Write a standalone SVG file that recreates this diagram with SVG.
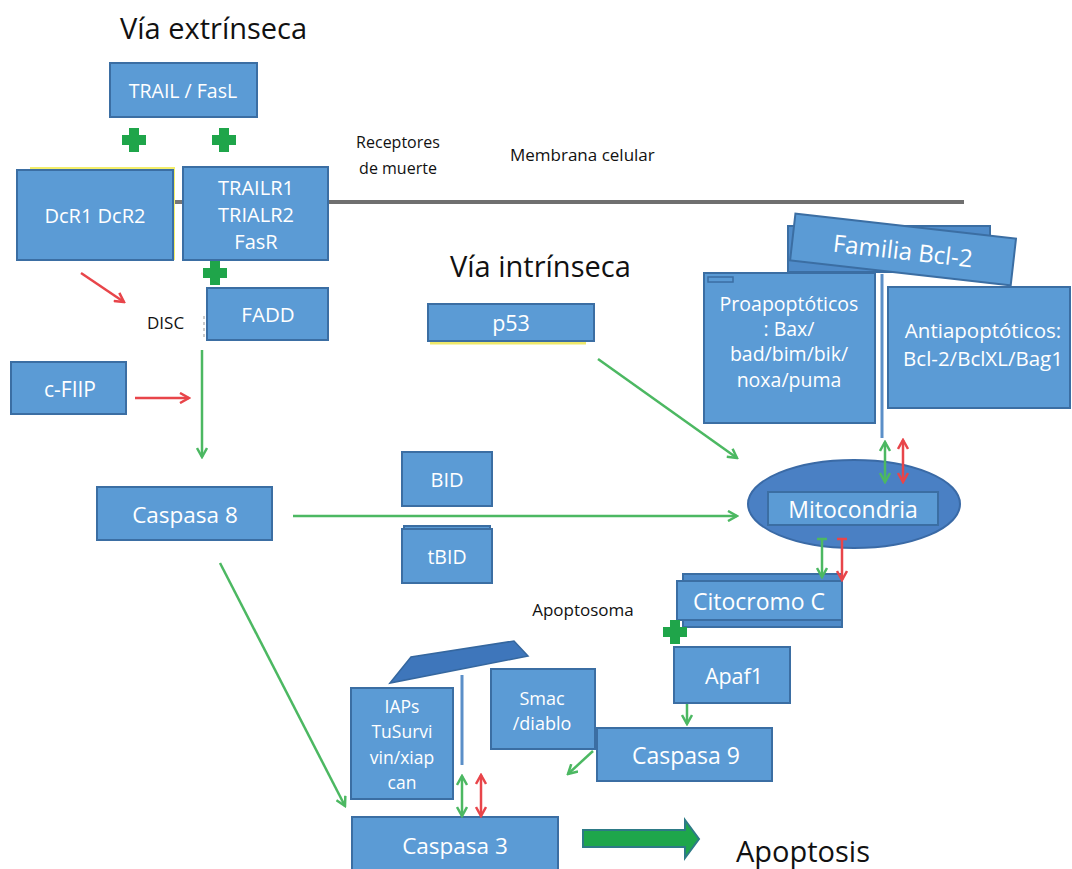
<svg xmlns="http://www.w3.org/2000/svg" xmlns:xlink="http://www.w3.org/1999/xlink" width="1072" height="869" viewBox="0 0 1072 869">
<style>
.box{fill:#5b9bd5;stroke:#3b6ea3;stroke-width:2}
.box2{fill:#4f8bc9;stroke:#3b6ea3;stroke-width:2}
.t{font-family:"Open Sans","Liberation Sans",sans-serif;fill:#ffffff;text-anchor:middle;dominant-baseline:central}
.lbl{font-family:"Open Sans","Liberation Sans",sans-serif;fill:#111111}
.g{stroke:#4cb862;stroke-width:2.5;fill:none}
.r{stroke:#e8454a;stroke-width:2.5;fill:none}
.bl{stroke:#5b8fc8;stroke-width:3;fill:none}
.plus{fill:#1fa54a}
</style>
<defs>
<marker id="ag" viewBox="0 0 12 12" refX="10" refY="6" markerWidth="12" markerHeight="12" markerUnits="userSpaceOnUse" orient="auto-start-reverse"><path d="M1,1 L10,6 L1,11" fill="none" stroke="#4cb862" stroke-width="2.5"/></marker>
<marker id="ar" viewBox="0 0 12 12" refX="10" refY="6" markerWidth="12" markerHeight="12" markerUnits="userSpaceOnUse" orient="auto-start-reverse"><path d="M1,1 L10,6 L1,11" fill="none" stroke="#e8454a" stroke-width="2.5"/></marker>
<path id="plusShape" class="plus" d="M-5,-12 h10 v7 h7 v10 h-7 v7 h-10 v-7 h-7 v-10 h7 z"/>
</defs>
<rect width="1072" height="869" fill="#ffffff"/>

<!-- titles and labels -->
<text class="lbl" x="120" y="39" font-size="29">Vía extrínseca</text>
<text class="lbl" x="450" y="277" font-size="29">Vía intrínseca</text>
<text class="lbl" x="398" y="148" font-size="16" text-anchor="middle">Receptores</text>
<text class="lbl" x="398" y="174" font-size="16" text-anchor="middle">de muerte</text>
<text class="lbl" x="510" y="161" font-size="17">Membrana celular</text>
<text class="lbl" x="147" y="329" font-size="17">DISC</text>
<text class="lbl" x="583" y="616" font-size="17" text-anchor="middle">Apoptosoma</text>
<text class="lbl" x="736" y="862" font-size="29">Apoptosis</text>

<!-- membrane -->
<g id="membrane">
<line x1="173" y1="202" x2="183" y2="202" stroke="#777" stroke-width="4"/>
<line x1="328" y1="202" x2="964" y2="202" stroke="#6f6f6f" stroke-width="4"/>
</g>

<!-- nodes -->
<g id="trail"><rect class="box" x="110" y="63" width="147" height="54"/><text class="t" x="183" y="90" font-size="19.5">TRAIL / FasL</text></g>
<g id="dcr">
<path d="M30,168 H174 V260" fill="none" stroke="#f3ee6a" stroke-width="2"/>
<rect class="box" x="17" y="170" width="156" height="90"/><text class="t" x="95" y="215" font-size="20">DcR1 DcR2</text></g>
<g id="trailr"><rect class="box" x="183" y="167" width="145" height="93"/>
<text class="t" x="256" y="187" font-size="20">TRAILR1</text><text class="t" x="256" y="214" font-size="20">TRIALR2</text><text class="t" x="256" y="241" font-size="20">FasR</text></g>
<g id="fadd"><rect class="box" x="207" y="288" width="121" height="52"/><text class="t" x="268" y="314" font-size="20.5">FADD</text></g>
<g id="cfiip"><rect class="box" x="11" y="362" width="115" height="52"/><text class="t" x="70" y="389" font-size="21">c-FIIP</text></g>
<g id="casp8"><rect class="box" x="97" y="487" width="175" height="53"/><text class="t" x="185" y="514" font-size="22.5">Caspasa 8</text></g>
<g id="bid"><rect class="box" x="402" y="452" width="90" height="54"/><text class="t" x="447" y="479" font-size="20">BID</text></g>
<g id="tbid"><rect class="box" x="404" y="526" width="86" height="6"/><rect class="box" x="402" y="529" width="90" height="54"/><text class="t" x="447" y="556" font-size="19.5">tBID</text></g>
<g id="p53"><line x1="430" y1="343" x2="586" y2="343" stroke="#eee86a" stroke-width="3"/><rect class="box" x="428" y="304" width="166" height="37"/><text class="t" x="511" y="322" font-size="21.5">p53</text></g>
<g id="bcl2">
<rect class="box2" x="788" y="226" width="202" height="46"/>
<g transform="rotate(6.5 903 250)"><rect class="box" x="792" y="226" width="222" height="47"/><text class="t" x="903" y="250" font-size="24">Familia Bcl-2</text></g>
</g>
<g id="pro"><rect class="box" x="704" y="273" width="171" height="150"/><rect x="708" y="277" width="25" height="5" fill="#5b9bd5" stroke="#3b6ea3" stroke-width="1.5"/>
<text class="t" x="789" y="303" font-size="19.5">Proapoptóticos</text><text class="t" x="789" y="328" font-size="19.5">: Bax/</text><text class="t" x="789" y="353" font-size="19.5">bad/bim/bik/</text><text class="t" x="789" y="379" font-size="19.5">noxa/puma</text></g>
<g id="anti"><rect class="box" x="888" y="287" width="182" height="121"/>
<text class="t" x="983" y="330" font-size="20.5">Antiapoptóticos:</text><text class="t" x="983" y="358" font-size="20.5">Bcl-2/BclXL/Bag1</text></g>
<g id="mito"><ellipse cx="854" cy="504" rx="106" ry="44" fill="#4a80c4" stroke="#3a6aa6" stroke-width="2"/>
<rect class="box" x="768" y="492" width="170" height="33"/><text class="t" x="853" y="509" font-size="23">Mitocondria</text></g>
<g id="cito"><rect class="box2" x="683" y="574" width="159" height="53"/><rect class="box" x="677" y="581" width="165" height="39"/><text class="t" x="759" y="601" font-size="23">Citocromo C</text></g>
<g id="apaf1"><rect class="box" x="674" y="647" width="116" height="56"/><text class="t" x="734" y="675" font-size="21.5">Apaf1</text></g>
<g id="casp9"><rect class="box" x="597" y="728" width="175" height="53"/><text class="t" x="686" y="755" font-size="23">Caspasa 9</text></g>
<g id="smac"><rect class="box" x="491" y="669" width="104" height="80"/><text class="t" x="542" y="698" font-size="18">Smac</text><text class="t" x="542" y="723" font-size="18">/diablo</text></g>
<g id="apoptosoma"><path d="M390,683 L411,657 L514,641 L528,656 Z" fill="#3e76bb" stroke="#35679f" stroke-width="1.5"/></g>
<g id="iaps"><rect class="box" x="351" y="688" width="102" height="111"/>
<text class="t" x="402" y="706" font-size="17.5">IAPs</text><text class="t" x="402" y="731" font-size="17.5">TuSurvi</text><text class="t" x="402" y="757" font-size="17.5">vin/xiap</text><text class="t" x="402" y="782" font-size="17.5">can</text></g>
<g id="casp3"><rect class="box" x="352" y="817" width="206" height="56"/><text class="t" x="455" y="845" font-size="22.5">Caspasa 3</text></g>

<!-- connectors -->
<g id="connectors">
<line class="r" x1="81" y1="273" x2="124" y2="302" marker-end="url(#ar)"/>
<line x1="204" y1="316" x2="204" y2="337" stroke="#bbb" stroke-width="1.5" stroke-dasharray="3,3"/>
<line class="g" x1="202" y1="350" x2="202" y2="457" marker-end="url(#ag)"/>
<line class="r" x1="135" y1="398" x2="189" y2="398" marker-end="url(#ar)"/>
<line class="g" x1="293" y1="516" x2="737" y2="516" marker-end="url(#ag)"/>
<line class="g" x1="598" y1="359" x2="737" y2="458" marker-end="url(#ag)"/>
<line class="g" x1="220" y1="563" x2="345" y2="806" marker-end="url(#ag)"/>
<line class="bl" x1="882" y1="274" x2="882" y2="438"/>
<line class="g" x1="885" y1="442" x2="885" y2="482" marker-start="url(#ag)" marker-end="url(#ag)"/>
<line class="r" x1="903" y1="440" x2="903" y2="482" marker-start="url(#ar)" marker-end="url(#ar)"/>
<line class="g" x1="822" y1="539" x2="822" y2="577" marker-end="url(#ag)"/>
<line class="g" x1="817" y1="539" x2="827" y2="539"/>
<line class="r" x1="842" y1="539" x2="842" y2="580" marker-end="url(#ar)"/>
<line class="r" x1="837" y1="539" x2="847" y2="539"/>
<line class="g" x1="687" y1="704" x2="687" y2="724" marker-end="url(#ag)"/>
<line class="g" x1="593" y1="751" x2="568" y2="774" marker-end="url(#ag)"/>
<line class="bl" x1="462" y1="675" x2="462" y2="765"/>
<line class="g" x1="462" y1="776" x2="462" y2="816" marker-start="url(#ag)" marker-end="url(#ag)"/>
<line class="r" x1="481" y1="775" x2="481" y2="816" marker-start="url(#ar)" marker-end="url(#ar)"/>
<path d="M583,830 H685 V820 L699,839 L685,858 V847 H583 Z" fill="#1ea64b" stroke="#2d7a86" stroke-width="2"/>
<use xlink:href="#plusShape" x="134" y="140"/>
<use xlink:href="#plusShape" x="224" y="140"/>
<use xlink:href="#plusShape" x="215" y="273"/>
<use xlink:href="#plusShape" x="675" y="632"/>
</g>
</svg>
